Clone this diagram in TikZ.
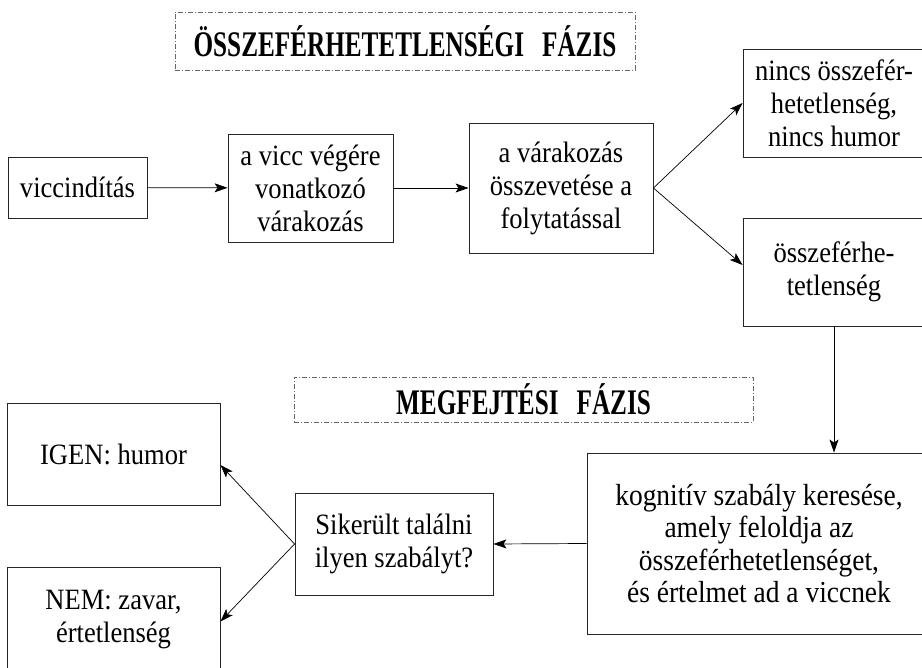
\documentclass[tikz,border=0pt]{standalone}
\usepackage{fontspec}
\setmainfont[FakeStretch=0.9]{Liberation Serif}
\newfontfamily\phasefont[FakeStretch=0.7]{Liberation Serif}
\usetikzlibrary{arrows.meta}

\begin{document}
\begin{tikzpicture}[x=1pt,y=-1pt,
    box/.style={draw=black!85,line width=0.9pt,align=center,inner sep=0pt,font=\fontsize{29.5}{33}\selectfont},
    phase/.style={draw=black!60,line width=0.7pt,dash pattern=on 5pt off 2pt on 1pt off 2pt,inner sep=0pt,font=\phasefont\fontsize{36}{40}\selectfont\bfseries},
    arr/.style={-{Stealth[length=13pt,width=9pt,inset=3pt]},line width=0.7pt}]
            \useasboundingbox (0,0) rectangle (922,668);
            \clip (0,0) rectangle (922,668);
            \node[phase,minimum width=460pt,minimum height=58pt] (phase1) at (405,41) {ÖSSZEFÉRHETETLENSÉGI\hspace{0.5em}FÁZIS};
            \node[phase,minimum width=459pt,minimum height=45pt] (phase2) at (523.5,399.5) {MEGFEJTÉSI\hspace{0.5em}FÁZIS};
            \node[box,minimum width=139pt,minimum height=61pt] (start) at (77.5,187.5) {viccindítás};
            \node[box,minimum width=165pt,minimum height=108pt] (expect) at (310.5,188) {a vicc végére\\vonatkozó\\várakozás};
            \node[box,minimum width=184pt,minimum height=130pt] (compare) at (561,188) {a várakozás\\összevetése a\\folytatással};
            \node[box,minimum width=182pt,minimum height=108pt] (nohumor) at (834,103) {nincs összefér-\\hetetlenség,\\nincs humor};
            \node[box,minimum width=182pt,minimum height=108pt] (incongr) at (834,272) {összeférhe-\\tetlenség};
            \node[box,minimum width=344pt,minimum height=181pt,font=\fontsize{30.5}{32.5}\selectfont] (search) at (759,543.5) {kognitív szabály keresése,\\amely feloldja az\\összeférhetetlenséget,\\és értelmet ad a viccnek};
            \node[box,minimum width=198pt,minimum height=102pt] (question) at (394,544) {Sikerült találni\\ilyen szabályt?};
            \node[box,minimum width=213pt,minimum height=102pt] (yesbox) at (113.5,454) {IGEN: humor};
            \node[box,minimum width=213pt,minimum height=105pt] (nobox) at (113.5,619.5) {NEM: zavar,\\értetlenség};
            \draw[arr] (start) -- (expect);
            \draw[arr] (expect) -- (compare);
            \draw[arr] (compare.east) -- (nohumor.west);
            \draw[arr] (compare.east) -- ([yshift=7pt]incongr.west);
            \draw[arr] (incongr.south) -- (incongr.south |- search.north);
            \draw[arr] (search.west) -- (question.east);
            \draw[arr] (question.west) -- ([yshift=-11pt]yesbox.east);
            \draw[arr] (question.west) -- ([yshift=-2pt]nobox.east);
        \end{tikzpicture}
\end{document}
